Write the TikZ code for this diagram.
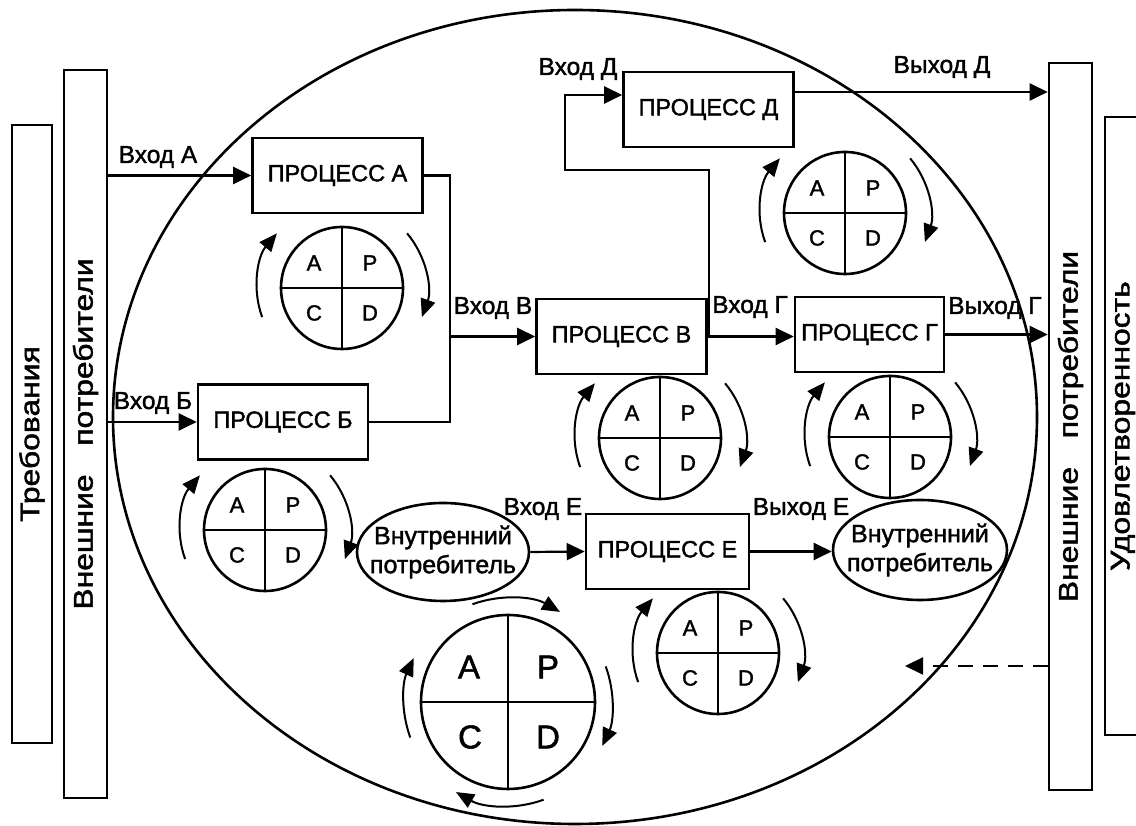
\documentclass[tikz,border=0pt]{standalone}
\usepackage{fontspec}
\setmainfont{Liberation Sans}[FakeBold=1.6]
\usetikzlibrary{positioning, arrows.meta, shapes.geometric, calc}

\begin{document}
\begin{tikzpicture}[
        x=1pt, y=1pt,
        procbox/.style={rectangle, draw, line width=2.6pt, minimum width=170pt, minimum height=75pt, inner sep=0pt, font=\fontsize{23.5}{28}\selectfont},
        sidebox/.style={rectangle, draw, line width=2.6pt, inner sep=0pt, font=\fontsize{27}{32}\selectfont},
        consumer/.style={ellipse, draw, line width=2.6pt, minimum width=172pt, minimum height=98pt, inner sep=0pt},
        pdca/.style={circle, draw, line width=2.6pt, minimum size=122pt, inner sep=0pt},
        quad/.style={inner sep=0pt, font=\fontsize{22}{26}\selectfont},
        lbl/.style={inner sep=0pt, font=\fontsize{24.5}{29}\selectfont},
        link/.style={line width=2.2pt},
        arr/.style={-{Triangle[length=18pt, width=17pt]}, line width=2.2pt},
        cyc/.style={-{Triangle[length=18pt, width=15pt]}, line width=2pt},
    ]
        \useasboundingbox (0,0) rectangle (1136,826);
        \clip (0,0) rectangle (1136,826);

        % Organisation boundary
        \node[ellipse, draw, line width=2.6pt, minimum width=924pt, minimum height=814pt] (org) at (575,409) {};

        % Side columns
        \node[sidebox, minimum width=40pt, minimum height=618pt] (req) at (32,392) {\rotatebox{90}{\scalebox{1.18}[1]{Требования}}};
        \node[sidebox, minimum width=43pt, minimum height=728pt] (extL) at (85.5,392) {\rotatebox{90}{\scalebox{1.18}[1]{Внешние\hspace{0.9em}потребители}}};
        \node[sidebox, minimum width=43pt, minimum height=727pt] (extR) at (1070.5,399.5) {\rotatebox{90}{\scalebox{1.18}[1]{Внешние\hspace{0.9em}потребители}}};
        \node[sidebox, minimum width=36pt, minimum height=618pt] (sat) at (1123,400) {\rotatebox{90}{\scalebox{1.18}[1]{Удовлетворенность}}};

        % Processes
        \node[procbox] (pA) at (337.5,650.5) {ПРОЦЕСС А};
        \node[procbox] (pB) at (283,404) {ПРОЦЕСС Б};
        \node[procbox] (pV) at (621.5,489.5) {ПРОЦЕСС В};
        \node[procbox, minimum width=149pt] (pG) at (869.5,491.5) {ПРОЦЕСС Г};
        \node[procbox] (pD) at (708.5,716.5) {ПРОЦЕСС Д};
        \node[procbox, minimum width=163pt] (pE) at (667.5,274.5) {ПРОЦЕСС Е};

        % Internal consumers
        \node[consumer] (ic1) at (443,274) {};
        \node[lbl, align=center, font=\fontsize{25}{29}\selectfont] (ic1t) at (ic1) {Внутренний\\потребитель};
        \node[consumer, minimum width=174pt, minimum height=100pt] (ic2) at (920,276) {};
        \node[lbl, align=center, font=\fontsize{25}{29}\selectfont] (ic2t) at (ic2) {Внутренний\\потребитель};

        % PDCA cycles of the processes
        \foreach \nm/\cx/\cy in {a/342/538, b/265/296, v/660/388, g/890/389, d/845/613, e/718/173} {
            \node[pdca] (c\nm) at (\cx,\cy) {};
            \draw[line width=2.4pt] (c\nm.north) -- (c\nm.south) (c\nm.west) -- (c\nm.east);
            \node[quad] (c\nm-a) at ($(c\nm)+(-28,25)$) {A};
            \node[quad] (c\nm-p) at ($(c\nm)+(28,25)$) {P};
            \node[quad] (c\nm-c) at ($(c\nm)+(-28,-25)$) {C};
            \node[quad] (c\nm-d) at ($(c\nm)+(28,-25)$) {D};
            \draw[cyc] ($(c\nm)+(200:85)$) arc[start angle=200, end angle=140, radius=85];
            \draw[cyc] ($(c\nm)+(40:85)$) arc[start angle=40, end angle=-20, radius=85];
        }

        % Big PDCA cycle
        \node[pdca, minimum size=174pt] (cbig) at (508,124) {};
        \draw[line width=2.4pt] (cbig.north) -- (cbig.south) (cbig.west) -- (cbig.east);
        \node[quad, font=\fontsize{33}{38}\selectfont] (cbig-a) at ($(cbig)+(-39,35)$) {A};
        \node[quad, font=\fontsize{33}{38}\selectfont] (cbig-p) at ($(cbig)+(40,35)$) {P};
        \node[quad, font=\fontsize{33}{38}\selectfont] (cbig-c) at ($(cbig)+(-38,-35)$) {C};
        \node[quad, font=\fontsize{33}{38}\selectfont] (cbig-d) at ($(cbig)+(40,-35)$) {D};
        \draw[cyc] ($(cbig)+(110:104)$) arc[start angle=110, end angle=60, radius=104];
        \draw[cyc] ($(cbig)+(20:104)$) arc[start angle=20, end angle=-25, radius=104];
        \draw[cyc] ($(cbig)+(-70:104)$) arc[start angle=-70, end angle=-120, radius=104];
        \draw[cyc] ($(cbig)+(200:104)$) arc[start angle=200, end angle=155, radius=104];

        % Inputs from external consumers
        \draw[arr] (extL.east |- pA.west) -- (pA.west);
        \draw[arr] (extL.east |- pB.west) -- (pB.west);

        % A and Б feed В
        \coordinate (jV) at (450,404);
        \draw[link] (pA.east) -| (jV) -- (pB.east);
        \draw[arr] (jV |- pV.west) -- (pV.west);
        \draw[arr] (pV.east) -- (pV.east -| pG.west);

        % Branch to Д
        \coordinate (jD) at (709,656);
        \coordinate (jDin) at (565,731);
        \draw[arr] (pV.east -| jD) -- (jD) -| (jDin) -- (jDin -| pD.west);

        % Outputs
        \coordinate (outD) at ([yshift=17.5pt]pD.east);
        \draw[arr] (outD) -- (outD -| extR.west);
        \draw[arr] (pG.east) -- (pG.east -| extR.west);
        \draw[arr] (ic1.east) -- (pE.west);
        \draw[arr] (pE.east) -- (pE.east -| ic2.west);

        % Feedback
        \coordinate (fb) at (905,160);
        \draw[arr, dashed, dash pattern=on 15pt off 10pt] (extR.west |- fb) -- (fb);

        % Labels
        \node[lbl] (lA) at (158,669) {Вход А};
        \node[lbl] (lB) at (153,423) {Вход Б};
        \node[lbl] (lV) at (493,518) {Вход В};
        \node[lbl] (lG) at (750,519) {Вход Г};
        \node[lbl] (lGo) at (995,518) {Выход Г};
        \node[lbl] (lD) at (578,757) {Вход Д};
        \node[lbl] (lDo) at (942,759) {Выход Д};
        \node[lbl] (lE) at (543,317) {Вход Е};
        \node[lbl] (lEo) at (801,317) {Выход Е};
    \end{tikzpicture}
\end{document}
